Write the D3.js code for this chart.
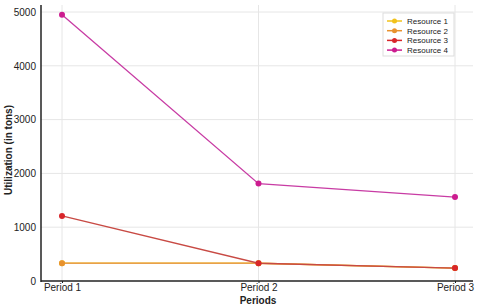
<!DOCTYPE html>
<html><head><meta charset="utf-8">
<script src="https://cdn.jsdelivr.net/npm/d3@7"></script>
<style>body{margin:0;background:#fff}svg{font-family:"Liberation Sans",Arial,sans-serif}</style>
</head><body><svg id="c" width="480" height="308"></svg>
<script>
const periods = ["Period 1", "Period 2", "Period 3"];
const seriesNames = ["Resource 1", "Resource 2", "Resource 3", "Resource 4"];
const resource1 = [330, 330, 240];
const resource2 = [330, 330, 240];
const resource3 = [1210, 330, 240];
const resource4 = [4950, 1810, 1560];
const yTicks = [0, 1000, 2000, 3000, 4000, 5000];
const colors = ["#f2c21b", "#e8922e", "#d8262a", "#cc1c8f"];
const lineColors = ["#f2c21b", "#e8a04a", "#c84a44", "#c83ca4"];
const values = [resource1, resource2, resource3, resource4];

const svg = d3.select("#c");
const x = d3.scalePoint().domain(periods).range([62, 455]);
const y = d3.scaleLinear().domain([0, 5000]).range([281, 12]);
const L = 41, R = 473, T = 5;

// grid
svg.append("g").selectAll("line").data(yTicks.filter(d => d > 0)).join("line")
  .attr("x1", L).attr("x2", R).attr("y1", d => y(d)).attr("y2", d => y(d))
  .attr("stroke", "#e6e6e6").attr("stroke-width", 1);
svg.append("g").selectAll("line").data(periods).join("line")
  .attr("x1", d => x(d)).attr("x2", d => x(d)).attr("y1", T).attr("y2", y(0))
  .attr("stroke", "#e6e6e6").attr("stroke-width", 1);

// axes
const yAxis = svg.append("g").attr("transform", `translate(${L},0)`)
  .call(d3.axisLeft(y).tickValues(yTicks).tickSize(0).tickPadding(5).tickFormat(d3.format("d")));
yAxis.select(".domain").remove();
yAxis.selectAll("text").attr("font-size", 10).attr("fill", "#222");
svg.append("line").attr("x1", L).attr("x2", L).attr("y1", T).attr("y2", y(0) + 1)
  .attr("stroke", "#222").attr("stroke-width", 1.5);

const xAxis = svg.append("g").attr("transform", `translate(0,${y(0)})`)
  .call(d3.axisBottom(x).tickSize(2).tickPadding(1));
xAxis.select(".domain").remove();
xAxis.selectAll("line").attr("stroke", "#222");
xAxis.selectAll("text").attr("font-size", 10).attr("fill", "#222");
svg.append("line").attr("x1", L).attr("x2", R).attr("y1", y(0)).attr("y2", y(0))
  .attr("stroke", "#222").attr("stroke-width", 1.5);

svg.append("text").attr("x", 258).attr("y", 304).attr("text-anchor", "middle")
  .attr("font-size", 10).attr("font-weight", "bold").attr("fill", "#222").text("Periods");
svg.append("text").attr("transform", `translate(12,150) rotate(-90)`)
  .attr("text-anchor", "middle").attr("font-size", 10).attr("font-weight", "bold").attr("fill", "#222")
  .text("Utilization (in tons)");

// lines
const line = d3.line().x((d, i) => x(periods[i])).y(d => y(d));
values.forEach((vals, k) => {
  svg.append("path").datum(vals).attr("d", line).attr("fill", "none")
    .attr("stroke", lineColors[k]).attr("stroke-width", 1.3);
  svg.append("g").selectAll("circle").data(vals).join("circle")
    .attr("cx", (d, i) => x(periods[i])).attr("cy", d => y(d)).attr("r", 3)
    .attr("fill", colors[k]);
});

// legend
const lg = svg.append("g").attr("transform", "translate(383,13)");
lg.append("rect").attr("width", 71).attr("height", 43).attr("fill", "#fff")
  .attr("stroke", "#ddd").attr("stroke-width", 1);
seriesNames.forEach((n, k) => {
  const yy = 8 + k * 9.7;
  lg.append("line").attr("x1", 4).attr("x2", 19).attr("y1", yy).attr("y2", yy)
    .attr("stroke", colors[k]).attr("stroke-width", 1.5);
  lg.append("circle").attr("cx", 11.5).attr("cy", yy).attr("r", 2.5).attr("fill", colors[k]);
  lg.append("text").attr("x", 24).attr("y", yy + 3).attr("font-size", 8).attr("fill", "#222").text(n);
});
</script></body></html>
